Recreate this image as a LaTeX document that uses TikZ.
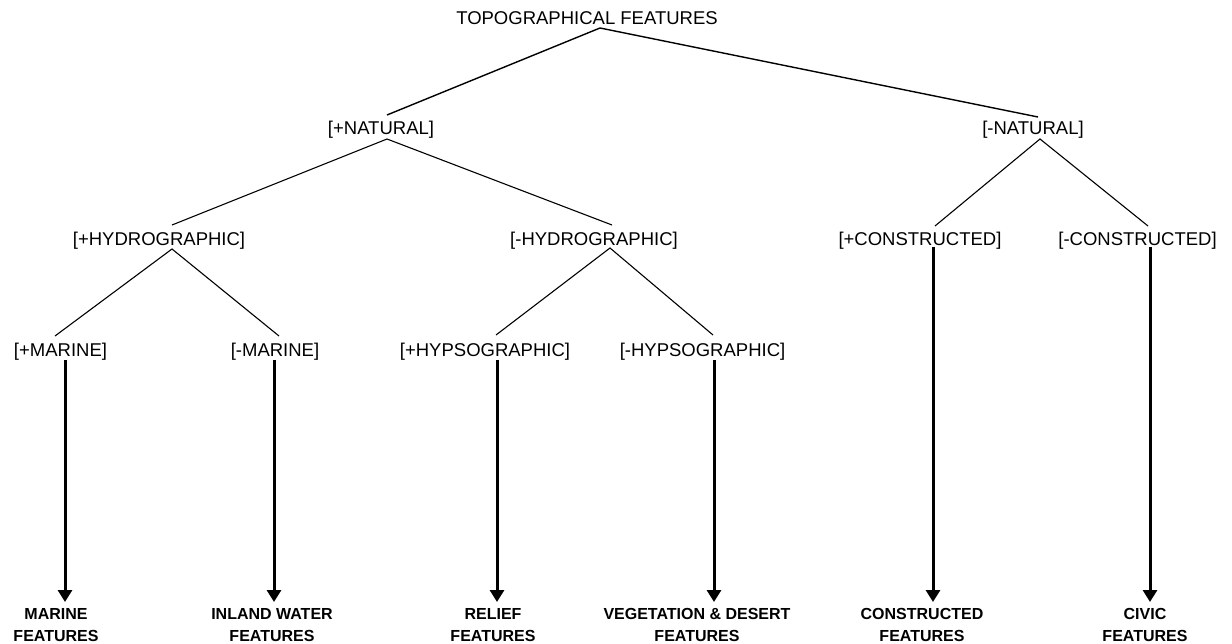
\documentclass[tikz,border=0pt]{standalone}
\usepackage{fontspec}
\setmainfont{Liberation Sans}
\usetikzlibrary{arrows.meta,calc}
\tikzset{
  feat/.style={inner sep=0pt, anchor=base, font=\fontsize{18.5}{22}\selectfont},
  result/.style={inner sep=0pt, anchor=north, align=center, font=\fontsize{16}{22}\selectfont\bfseries},
  branch/.style={line width=1.1pt},
  topbranch/.style={line width=1.4pt},
  derive/.style={line width=3pt, -{Triangle[length=12pt,width=14pt]}}
}
\begin{document}
\begin{tikzpicture}[x=1pt,y=-1pt]
\useasboundingbox (0,0) rectangle (1232,644);
% feature nodes (placed by baseline)
\node[feat] (top)  at (587,25)  {TOPOGRAPHICAL FEATURES};
\node[feat] (pnat) at (381,135) {[+NATURAL]};
\node[feat] (mnat) at (1033,135) {[-NATURAL]};
\node[feat] (phyd) at (159,246) {[+HYDROGRAPHIC]};
\node[feat] (mhyd) at (594,246) {[-HYDROGRAPHIC]};
\node[feat] (pcon) at (920,246) {[+CONSTRUCTED]};
\node[feat] (mcon) at (1137.5,246) {[-CONSTRUCTED]};
\node[feat] (pmar) at (60.5,357) {[+MARINE]};
\node[feat] (mmar) at (275,357) {[-MARINE]};
\node[feat] (phyp) at (485,357) {[+HYPSOGRAPHIC]};
\node[feat] (mhyp) at (702.5,357) {[-HYPSOGRAPHIC]};
% result labels
\node[result] (rmar) at (56,608)  {MARINE\\FEATURES};
\node[result] (rinl) at (272,608) {INLAND WATER\\FEATURES};
\node[result] (rrel) at (493,608) {RELIEF\\FEATURES};
\node[result] (rveg) at (697,608) {VEGETATION \& DESERT\\FEATURES};
\node[result] (rcon) at (922,608) {CONSTRUCTED\\FEATURES};
\node[result] (rciv) at (1145,608) {CIVIC\\FEATURES};
% tree branches
\draw[topbranch] ($(pnat.base)+(6,-20)$) -- ($(top.base)+(13,3)$) -- ($(mnat.base)+(5,-18)$);
\draw[branch] ($(phyd.base)+(13,-21)$) -- ($(pnat.base)+(6,4)$) -- ($(mhyd.base)+(18,-21)$);
\draw[branch] ($(pcon.base)+(15,-20)$) -- ($(mnat.base)+(7,4)$) -- ($(mcon.base)+(10.5,-20)$);
\draw[branch] ($(pmar.base)+(-5.5,-21)$) -- ($(phyd.base)+(13,3)$) -- ($(mmar.base)+(4,-21)$);
\draw[branch] ($(phyp.base)+(11,-22)$) -- ($(mhyd.base)+(16,2)$) -- ($(mhyp.base)+(10.5,-22)$);
% derivation arrows
\draw[derive] ($(pmar.base)+(4.5,3)$) -- ($(rmar.north)+(9,-6)$);
\draw[derive] ($(mmar.base)+(-1,3)$) -- ($(rinl.north)+(2,-6)$);
\draw[derive] ($(phyp.base)+(12,3)$) -- ($(rrel.north)+(4,-6)$);
\draw[derive] ($(mhyp.base)+(11.5,3)$) -- ($(rveg.north)+(17,-6)$);
\draw[derive] ($(pcon.base)+(13,1)$) -- ($(rcon.north)+(11,-6)$);
\draw[derive] ($(mcon.base)+(12.5,1)$) -- ($(rciv.north)+(5,-6)$);
\end{tikzpicture}
\end{document}
